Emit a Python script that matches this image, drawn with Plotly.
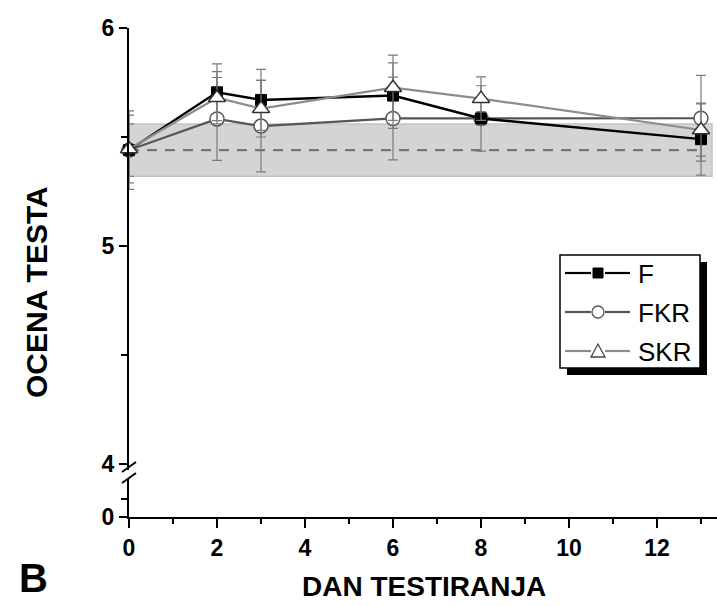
import plotly.graph_objects as go

# ---- data ----
days = [0, 2, 3, 6, 8, 13]
f_vals = [5.44, 5.705, 5.67, 5.69, 5.585, 5.49]
f_err = [0.18, 0.13, 0.14, 0.15, 0.03, 0.165]
fkr_vals = [5.44, 5.583, 5.55, 5.585, 5.585, 5.586]
fkr_err = [0.12, 0.19, 0.21, 0.19, 0.15, 0.197]
skr_vals = [5.445, 5.68, 5.63, 5.726, 5.676, 5.532]
skr_err = [0.155, 0.12, 0.13, 0.15, 0.10, 0.12]

control_mean = 5.44
control_low = 5.32
control_high = 5.56
band_x = [0, 13.25]
dash_x = [0, 13]

x_ticks = [0, 2, 4, 6, 8, 10, 12]
y_ticks = [4, 5, 6]
series_names = ["F", "FKR", "SKR"]

# ---- layout geometry (pixels) ----
W, H = 717, 606
L, R, T, B = 129, 0, 28, 89
PW, PH = W - L - R, H - T - B
PX_PER_DAY = 44.0
PX_PER_UNIT = 218.0

def px(xp):
    return (xp - L) / PW

def py(yp):
    return (H - B - yp) / PH

# broken axis: the stretch below the break shows the origin (0)
y_bottom = 6 - PH / PX_PER_UNIT          # value at the x-axis line, labelled "0"
y_lower_minor = y_bottom + 18 / PX_PER_UNIT

FONT = "Liberation Sans, Arial, sans-serif"
ebar = dict(type="data", thickness=1.2, width=5, color="#7a7a7a")
F_COL, FKR_COL, SKR_COL = "#000000", "#555555", "#8c8c8c"

fig = go.Figure()

fig.add_trace(go.Scatter(x=[band_x[0], band_x[1], band_x[1], band_x[0], band_x[0]],
                         y=[control_low, control_low, control_high, control_high, control_low],
                         fill="toself", fillcolor="#d4d4d4", mode="lines",
                         line=dict(color="#c4c4c4", width=1.5), showlegend=False,
                         hoverinfo="skip"))
fig.add_trace(go.Scatter(x=dash_x, y=[control_mean, control_mean], mode="lines",
                         line=dict(color="#777777", width=2.2, dash="10px,8px"),
                         showlegend=False, hoverinfo="skip"))
fig.add_trace(go.Scatter(x=days, y=fkr_vals, name=series_names[1], mode="lines+markers",
                         error_y=dict(array=fkr_err, **ebar), cliponaxis=False,
                         line=dict(color=FKR_COL, width=2.2), showlegend=False,
                         marker=dict(symbol="circle", size=14, color="white",
                                     line=dict(color=FKR_COL, width=1.5))))
fig.add_trace(go.Scatter(x=days, y=f_vals, name=series_names[0], mode="lines+markers",
                         error_y=dict(array=f_err, **ebar), cliponaxis=False,
                         line=dict(color=F_COL, width=2.4), showlegend=False,
                         marker=dict(symbol="square", size=11, color="black",
                                     line=dict(color="black", width=1))))
fig.add_trace(go.Scatter(x=days, y=skr_vals, name=series_names[2], mode="lines+markers",
                         error_y=dict(array=skr_err, **ebar), cliponaxis=False,
                         line=dict(color=SKR_COL, width=2.2), showlegend=False,
                         marker=dict(symbol="triangle-up", size=15, color="white",
                                     line=dict(color="#333333", width=1.5))))

axis_common = dict(showline=True, linecolor="black", linewidth=2, ticks="outside",
                   tickcolor="black", tickwidth=2, showgrid=False, zeroline=False,
                   automargin=False,
                   tickfont=dict(family=FONT, size=23, color="black", weight="bold"))

fig.update_layout(
    template="none",
    width=W, height=H,
    margin=dict(l=L, r=R, t=T, b=B, pad=0, autoexpand=False),
    paper_bgcolor="white", plot_bgcolor="white",
    showlegend=False,
    xaxis=dict(range=[0, PW / PX_PER_DAY], tickvals=x_ticks, ticklen=9,
               minor=dict(dtick=1, tick0=0, ticklen=5, tickwidth=1.5, tickcolor="black", ticks="outside"),
               **axis_common),
    yaxis=dict(range=[y_bottom, 6],
               tickvals=[y_bottom] + y_ticks, ticktext=["0"] + [str(v) for v in y_ticks],
               ticklen=8,
               minor=dict(tickvals=[y_lower_minor, 4.5, 5.5], ticklen=6, tickwidth=1.5,
                          tickcolor="black", ticks="outside"),
               **axis_common),
)

shapes = []
# gap in the y axis line + break marks
shapes.append(dict(type="rect", xref="paper", yref="paper", layer="above",
                   x0=px(L - 3), x1=px(L + 3), y0=py(479), y1=py(470),
                   fillcolor="white", line=dict(width=0)))
for yp in (467, 478):
    shapes.append(dict(type="line", xref="paper", yref="paper", layer="above",
                       x0=px(L - 7), x1=px(L + 7), y0=py(yp + 5), y1=py(yp - 5),
                       line=dict(color="black", width=2)))

# ---- manual legend (box with drop shadow) ----
bx0, bx1, by0, by1 = 560, 700, 255, 368
shapes.append(dict(type="rect", xref="paper", yref="paper", layer="above",
                   x0=px(bx0 + 7), x1=px(bx1 + 7), y0=py(by1 + 7), y1=py(by0 + 7),
                   fillcolor="black", line=dict(width=0)))
shapes.append(dict(type="rect", xref="paper", yref="paper", layer="above",
                   x0=px(bx0), x1=px(bx1), y0=py(by1), y1=py(by0),
                   fillcolor="white", line=dict(color="black", width=1.5)))
rows = [273, 312, 351]
cols = [F_COL, FKR_COL, SKR_COL]
mx = 598
for ry, c in zip(rows, cols):
    for a, b in ((565, 591), (605, 630)):
        shapes.append(dict(type="line", xref="paper", yref="paper", layer="above",
                           x0=px(a), x1=px(b), y0=py(ry), y1=py(ry),
                           line=dict(color=c, width=2.2)))
shapes.append(dict(type="rect", xref="paper", yref="paper", layer="above",
                   x0=px(mx - 5), x1=px(mx + 5), y0=py(rows[0] + 5), y1=py(rows[0] - 5),
                   fillcolor="black", line=dict(color="black", width=1)))
shapes.append(dict(type="circle", xref="paper", yref="paper", layer="above",
                   x0=px(mx - 6), x1=px(mx + 6), y0=py(rows[1] + 6), y1=py(rows[1] - 6),
                   fillcolor="white", line=dict(color=FKR_COL, width=1.3)))
ty = rows[2]
tri = "M {:.5f},{:.5f} L {:.5f},{:.5f} L {:.5f},{:.5f} Z".format(
    px(mx - 7), py(ty + 6), px(mx + 7), py(ty + 6), px(mx), py(ty - 7))
shapes.append(dict(type="path", xref="paper", yref="paper", layer="above", path=tri,
                   fillcolor="white", line=dict(color="#444444", width=1.3)))
fig.update_layout(shapes=shapes)

annotations = [
    dict(text="<b>OCENA TESTA</b>", x=px(36), y=py(292), xref="paper", yref="paper",
         xanchor="center", yanchor="middle",
         textangle=-90, showarrow=False, font=dict(family=FONT, size=30, color="black")),
    dict(text="<b>DAN TESTIRANJA</b>", x=px(424), y=py(586), xref="paper", yref="paper",
         xanchor="center", yanchor="middle",
         showarrow=False, font=dict(family=FONT, size=28, color="black")),
    dict(text="<b>B</b>", x=px(33), y=py(578), xref="paper", yref="paper",
         xanchor="center", yanchor="middle",
         showarrow=False, font=dict(family=FONT, size=40, color="black")),
]
for ry, name in zip(rows, series_names):
    annotations.append(dict(text=name, x=px(636), y=py(ry + 1), xref="paper", yref="paper",
                            xanchor="left", yanchor="middle", showarrow=False,
                            font=dict(family=FONT, size=26, color="black")))
fig.update_layout(annotations=annotations)

fig.write_html("out.html", config={"displayModeBar": False},
               post_script="document.body.style.margin='0';")
